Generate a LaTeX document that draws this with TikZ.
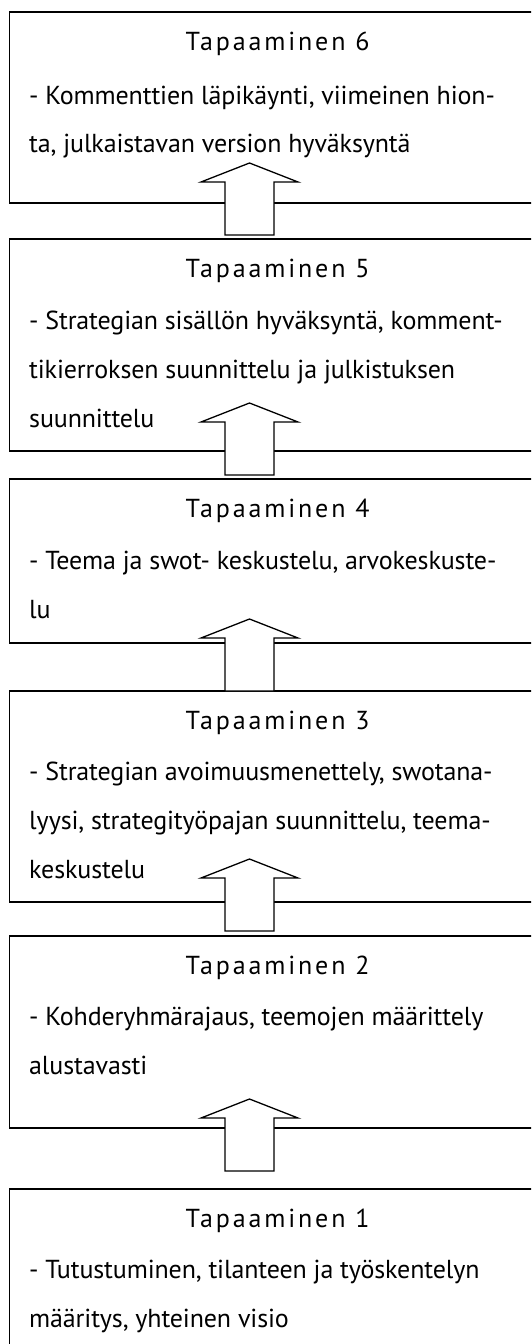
\documentclass[tikz,border=0pt]{standalone}
\usepackage{fontspec}
\setmainfont[LetterSpace=-0.5]{PT Sans}
\newfontfamily\headfont[LetterSpace=11]{PT Sans}
\usetikzlibrary{calc}
\begin{document}
\begin{tikzpicture}[x=1pt,y=-1pt,
  meeting/.style={draw=black, line width=1.3pt, fill=white, outer sep=0pt,
    inner sep=0pt, anchor=north west, minimum width=536pt},
  heading/.style={font=\headfont\fontsize{26}{30}\selectfont, inner sep=0pt, anchor=base},
  body/.style={font=\fontsize{26}{30}\selectfont, inner sep=0pt, anchor=base west},
  arrowline/.style={draw=black, line width=1.3pt, fill=white, line join=miter},
  uparrow/.pic={\path[arrowline] (-24.5,0) -- (-24.5,-53) -- (-48.5,-53) -- (0,-72)
     -- (48.5,-53) -- (24.5,-53) -- (24.5,0) -- cycle;}]
\useasboundingbox (0,0) rectangle (531,1344);
\clip (0,0) rectangle (531,1344);

% meeting boxes, top to bottom
\node[meeting, minimum height=191pt] (m6) at (9.5,12) {};
\node[meeting, minimum height=212pt] (m5) at (9.5,239) {};
\node[meeting, minimum height=164pt] (m4) at (9.5,479) {};
\node[meeting, minimum height=211pt] (m3) at (9.5,691) {};
\node[meeting, minimum height=192pt] (m2) at (9.5,936) {};
\node[meeting, minimum height=220pt] (m1) at (9.5,1189) {};

% texts
\node[heading] (h6) at ($(m6.north west)+(268,38)$) {Tapaaminen 6};
\node[body] (l6a) at ($(m6.north west)+(19.5,92)$) {- Kommenttien läpikäynti, viimeinen hion-};
\node[body] (l6b) at ($(l6a.base west)+(0,48)$) {ta, julkaistavan version hyväksyntä};

\node[heading] (h5) at ($(m5.north west)+(268,38)$) {Tapaaminen 5};
\node[body] (l5a) at ($(m5.north west)+(19.5,90)$) {- Strategian sisällön hyväksyntä, komment-};
\node[body] (l5b) at ($(l5a.base west)+(0,49)$) {tikierroksen suunnittelu ja julkistuksen};
\node[body] (l5c) at ($(l5b.base west)+(0,49)$) {suunnittelu};

\node[heading] (h4) at ($(m4.north west)+(268,38)$) {Tapaaminen 4};
\node[body] (l4a) at ($(m4.north west)+(19.5,90)$) {- Teema ja swot- keskustelu, arvokeskuste-};
\node[body] (l4b) at ($(l4a.base west)+(0,49)$) {lu};

\node[heading] (h3) at ($(m3.north west)+(268,38)$) {Tapaaminen 3};
\node[body] (l3a) at ($(m3.north west)+(19.5,89)$) {- Strategian avoimuusmenettely, swotana-};
\node[body] (l3b) at ($(l3a.base west)+(0,49)$) {lyysi, strategityöpajan suunnittelu, teema-};
\node[body] (l3c) at ($(l3b.base west)+(0,49)$) {keskustelu};

\node[heading] (h2) at ($(m2.north west)+(268,38)$) {Tapaaminen 2};
\node[body] (l2a) at ($(m2.north west)+(19.5,89)$) {- Kohderyhmärajaus, teemojen määrittely};
\node[body] (l2b) at ($(l2a.base west)+(0,49)$) {alustavasti};

\node[heading] (h1) at ($(m1.north west)+(268,38)$) {Tapaaminen 1};
\node[body] (l1a) at ($(m1.north west)+(19.5,89)$) {- Tutustuminen, tilanteen ja työskentelyn};
\node[body] (l1b) at ($(l1a.base west)+(0,49)$) {määritys, yhteinen visio};

% block arrows leading from each meeting up into the next
\pic at ($(m1.north west)+(240,-18)$) {uparrow};
\pic at ($(m2.north west)+(240,-5)$) {uparrow};
\pic at ($(m3.north west)+(240,0)$) {uparrow};
\pic at ($(m4.north west)+(240,-4)$) {uparrow};
\pic at ($(m5.north west)+(240,-4)$) {uparrow};
\end{tikzpicture}
\end{document}
